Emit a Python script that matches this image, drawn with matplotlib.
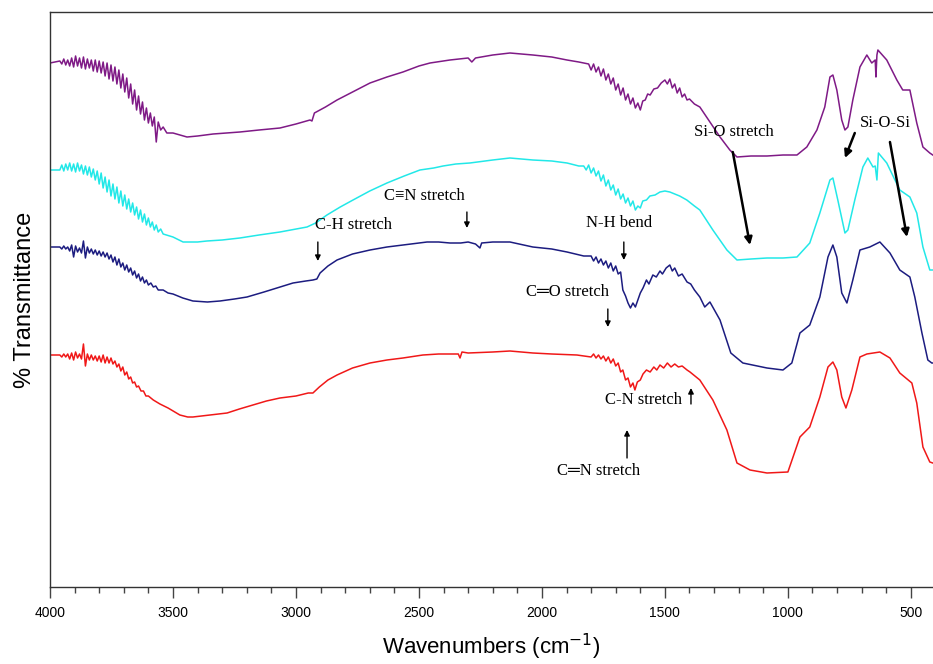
import numpy as np
import matplotlib.pyplot as plt
from matplotlib.ticker import MultipleLocator

# wavenumber (cm-1) and transmittance (arbitrary units, spectra stacked)
wn_purple = [4000, 3960, 3952, 3944, 3936, 3928, 3920, 3912, 3904, 3896, 3888, 3880, 3872, 3864,
             3856, 3848, 3840, 3832, 3824, 3816, 3808, 3800, 3792, 3784, 3776, 3768, 3760, 3752,
             3744, 3736, 3728, 3720, 3712, 3704, 3696, 3688, 3680, 3672, 3664, 3656, 3648, 3640,
             3632, 3624, 3616, 3608, 3600, 3592, 3584, 3576, 3568, 3560, 3550, 3540, 3525, 3500,
             3443, 3400, 3337, 3228, 3150, 3065, 3000, 2943, 2935, 2925, 2880, 2833, 2770, 2699,
             2630, 2565, 2500, 2455, 2400, 2374, 2300, 2285, 2270, 2200, 2130, 2037, 1960, 1898,
             1850, 1810, 1800, 1790, 1780, 1770, 1760, 1750, 1740, 1730, 1720, 1710, 1700, 1690,
             1680, 1670, 1660, 1650, 1640, 1630, 1620, 1610, 1600, 1590, 1580, 1570, 1560, 1545,
             1530, 1515, 1500, 1490, 1480, 1470, 1460, 1450, 1440, 1430, 1420, 1410, 1400, 1380,
             1358, 1317, 1276, 1236, 1207, 1150, 1085, 1020, 963, 923, 882, 850, 829, 817, 801,
             781, 768, 756, 736, 707, 679, 659, 645, 642, 638, 634, 598, 557, 533, 504, 476, 451,
             423, 411]
t_purple = [537, 539, 536, 541, 535, 540, 534, 542, 533, 544, 534, 542, 532, 543, 531, 541, 532,
            540, 529, 540, 528, 539, 527, 538, 524, 537, 521, 535, 519, 533, 516, 530, 512, 526,
            508, 522, 502, 516, 496, 510, 490, 504, 486, 498, 480, 492, 477, 487, 474, 483, 458,
            478, 470, 473, 467, 467, 463, 464, 466, 468, 470, 472, 476, 480, 479, 487, 493, 500,
            508, 517, 523, 528, 534, 537, 539, 540, 542, 538, 542, 545, 547, 545, 543, 540, 538,
            536, 530, 536, 528, 533, 524, 531, 520, 526, 516, 522, 510, 516, 505, 512, 500, 506,
            496, 502, 492, 497, 490, 499, 500, 506, 505, 511, 512, 517, 520, 516, 521, 512, 516,
            507, 512, 503, 506, 500, 501, 496, 493, 478, 463, 450, 443, 444, 444, 445, 445, 453,
            470, 493, 523, 525, 510, 480, 470, 473, 500, 533, 545, 537, 540, 523, 545, 550, 540,
            520, 510, 510, 477, 453, 447, 445]

wn_cyan = [4000, 3960, 3952, 3944, 3936, 3928, 3920, 3912, 3904, 3896, 3888, 3880, 3872, 3864,
           3856, 3848, 3840, 3832, 3824, 3816, 3808, 3800, 3792, 3784, 3776, 3768, 3760, 3752,
           3744, 3736, 3728, 3720, 3712, 3704, 3696, 3688, 3680, 3672, 3664, 3656, 3648, 3640,
           3632, 3624, 3616, 3608, 3600, 3592, 3584, 3576, 3568, 3560, 3550, 3540, 3500, 3459,
           3400, 3362, 3300, 3228, 3150, 3065, 3000, 2955, 2920, 2874, 2820, 2768, 2700, 2630,
           2560, 2496, 2440, 2402, 2350, 2293, 2200, 2130, 2037, 1960, 1898, 1850, 1830, 1820,
           1810, 1800, 1790, 1780, 1770, 1760, 1750, 1740, 1730, 1720, 1710, 1700, 1690, 1680,
           1670, 1660, 1650, 1640, 1630, 1620, 1610, 1600, 1590, 1575, 1561, 1540, 1520, 1500,
           1480, 1460, 1440, 1411, 1380, 1358, 1305, 1248, 1207, 1150, 1085, 1020, 963, 911, 870,
           829, 817, 797, 768, 756, 728, 695, 675, 654, 645, 638, 632, 598, 545, 504, 476, 451,
           423, 411]
t_cyan = [430, 430, 435, 429, 436, 430, 437, 429, 436, 428, 437, 429, 435, 426, 434, 425, 433,
          423, 431, 420, 429, 416, 427, 412, 423, 408, 420, 404, 416, 401, 413, 397, 409, 394,
          405, 391, 401, 388, 397, 385, 393, 381, 390, 378, 386, 375, 382, 373, 378, 370, 375,
          368, 371, 366, 363, 358, 358, 359, 360, 362, 365, 368, 371, 373, 377, 385, 393, 400,
          409, 417, 424, 430, 432, 434, 436, 437, 440, 442, 440, 439, 437, 434, 434, 430, 435,
          427, 432, 424, 429, 419, 425, 414, 420, 410, 415, 405, 411, 401, 406, 397, 402, 394,
          399, 390, 394, 392, 399, 400, 404, 405, 408, 409, 408, 406, 404, 400, 394, 390, 370,
          350, 340, 341, 342, 342, 343, 357, 387, 420, 422, 400, 367, 370, 400, 433, 442, 433,
          434, 420, 447, 437, 410, 403, 387, 353, 330, 330]

wn_navy = [4000, 3960, 3952, 3944, 3936, 3928, 3920, 3912, 3904, 3896, 3888, 3880, 3872, 3864,
           3856, 3848, 3840, 3832, 3824, 3816, 3808, 3800, 3792, 3784, 3776, 3768, 3760, 3752,
           3744, 3736, 3728, 3720, 3712, 3704, 3696, 3688, 3680, 3672, 3664, 3656, 3648, 3640,
           3632, 3624, 3616, 3608, 3600, 3590, 3580, 3570, 3560, 3540, 3520, 3500, 3460, 3419,
           3360, 3309, 3250, 3199, 3130, 3065, 3012, 2960, 2931, 2915, 2902, 2870, 2833, 2770,
           2699, 2630, 2565, 2500, 2467, 2420, 2374, 2330, 2300, 2270, 2252, 2245, 2200, 2130,
           2037, 1960, 1898, 1830, 1800, 1790, 1780, 1770, 1760, 1750, 1740, 1730, 1720, 1710,
           1700, 1690, 1680, 1671, 1660, 1650, 1640, 1630, 1620, 1610, 1600, 1589, 1575, 1565,
           1549, 1535, 1520, 1510, 1495, 1480, 1470, 1460, 1445, 1430, 1410, 1395, 1380, 1358,
           1338, 1317, 1276, 1232, 1183, 1085, 1020, 984, 951, 911, 870, 837, 817, 801, 781, 760,
           736, 707, 667, 626, 585, 545, 504, 484, 455, 431, 415, 411]
t_navy = [353, 353, 351, 354, 351, 353, 349, 355, 343, 354, 348, 352, 347, 359, 342, 353, 347,
          351, 346, 350, 345, 349, 344, 348, 343, 347, 341, 345, 338, 343, 335, 341, 333, 337,
          330, 335, 328, 332, 325, 329, 322, 326, 319, 323, 317, 320, 315, 317, 313, 314, 310,
          310, 307, 306, 302, 299, 298, 299, 301, 303, 308, 313, 317, 319, 320, 321, 327, 334,
          340, 346, 350, 353, 355, 357, 358, 358, 357, 357, 358, 356, 352, 357, 358, 358, 353,
          351, 348, 344, 344, 339, 343, 337, 341, 335, 339, 332, 337, 329, 334, 326, 328, 310,
          304, 297, 292, 297, 293, 300, 307, 312, 320, 316, 325, 323, 329, 326, 332, 335, 329,
          332, 324, 326, 318, 316, 310, 303, 293, 298, 280, 247, 237, 232, 230, 237, 267, 275,
          303, 343, 355, 343, 307, 297, 320, 350, 353, 358, 347, 330, 323, 303, 267, 240, 237,
          237]

wn_red = [4000, 3960, 3952, 3944, 3936, 3928, 3920, 3912, 3904, 3896, 3888, 3880, 3872, 3864,
          3856, 3848, 3840, 3832, 3824, 3816, 3808, 3800, 3792, 3784, 3776, 3768, 3760, 3752,
          3744, 3736, 3728, 3720, 3712, 3704, 3696, 3688, 3680, 3672, 3664, 3656, 3648, 3640,
          3630, 3620, 3610, 3600, 3580, 3553, 3520, 3472, 3440, 3419, 3350, 3280, 3230, 3175,
          3120, 3065, 3000, 2950, 2931, 2905, 2870, 2833, 2770, 2699, 2630, 2565, 2484, 2420,
          2362, 2340, 2333, 2325, 2300, 2200, 2130, 2037, 1960, 1858, 1800, 1790, 1780, 1770,
          1760, 1750, 1740, 1730, 1720, 1710, 1700, 1690, 1680, 1671, 1660, 1650, 1640, 1630,
          1622, 1612, 1600, 1589, 1575, 1560, 1545, 1533, 1520, 1505, 1490, 1475, 1460, 1445,
          1430, 1410, 1398, 1358, 1305, 1248, 1207, 1154, 1085, 1000, 951, 911, 870, 837, 817,
          801, 781, 764, 740, 707, 679, 626, 585, 545, 496, 476, 451, 423, 411]
t_red = [245, 245, 243, 246, 243, 246, 241, 247, 240, 248, 242, 246, 241, 256, 234, 246, 240,
         245, 240, 244, 239, 244, 238, 245, 237, 243, 237, 242, 236, 239, 233, 236, 229, 233,
         225, 228, 221, 223, 217, 218, 213, 214, 209, 209, 204, 204, 200, 196, 192, 185, 183,
         183, 185, 187, 191, 195, 199, 202, 204, 207, 207, 213, 220, 225, 232, 237, 240, 242,
         245, 246, 246, 246, 242, 248, 247, 248, 249, 247, 246, 245, 243, 246, 242, 245, 241,
         244, 239, 243, 237, 241, 234, 237, 228, 230, 220, 222, 213, 217, 210, 218, 220, 226,
         230, 228, 233, 230, 235, 232, 237, 233, 236, 233, 234, 230, 228, 220, 200, 170, 137,
         130, 127, 128, 163, 173, 203, 233, 238, 230, 203, 192, 210, 243, 246, 248, 242, 227,
         217, 197, 153, 138, 137]

notes = [
    # text, text position, arrow tail, arrow head
    ("C-H stretch", (2768, 375), (2911, 358), (2911, 339)),
    ("C\u2261N stretch", (2476, 404), (2305, 388), (2305, 372)),
    ("N-H bend", (1687, 377), (1667, 358), (1667, 340)),
    ("C\u2550O stretch", (1894, 308), (1732, 291), (1732, 273)),
    ("C-N stretch", (1589, 200), (1394, 196), (1394, 212)),
    ("C\u2550N stretch", (1768, 129), (1654, 142), (1654, 170)),
]
big_arrows = [
    ("Si-O stretch", (1220, 468), [((1224, 448), (1154, 355))]),
    ("Si-O-Si", (602, 477), [((728, 467), (768, 442)), ((585, 458), (516, 363))]),
]

fig = plt.figure(figsize=(9.33, 6.64), dpi=100)
ax = fig.add_axes([50 / 933, 77 / 664, 883 / 933, 575 / 664])

ax.plot(wn_purple, t_purple, color="#7f1a86", lw=1.1)
ax.plot(wn_cyan, t_cyan, color="#22e8e8", lw=1.1)
ax.plot(wn_navy, t_navy, color="#1c1c80", lw=1.1)
ax.plot(wn_red, t_red, color="#f01818", lw=1.1)

ax.set_xlim(4000, 410)
ax.set_ylim(13, 588)

serif = ["Liberation Serif", "DejaVu Serif", "DejaVu Sans"]
for txt, pos, tail, head in notes:
    ax.text(pos[0], pos[1], txt, ha="center", va="center", fontsize=12, family=serif)
    ax.annotate("", xy=head, xytext=tail,
                arrowprops=dict(arrowstyle="-|>", color="black", lw=1.0,
                                mutation_scale=8, shrinkA=0, shrinkB=0))
for txt, pos, arrows in big_arrows:
    ax.text(pos[0], pos[1], txt, ha="center", va="center", fontsize=12, family=serif)
    for tail, head in arrows:
        ax.annotate("", xy=head, xytext=tail,
                    arrowprops=dict(arrowstyle="-|>", color="black", lw=1.8,
                                    mutation_scale=11, shrinkA=0, shrinkB=0))

sans = ["Liberation Sans Narrow", "Liberation Sans", "DejaVu Sans"]
ax.xaxis.set_major_locator(MultipleLocator(500))
ax.xaxis.set_minor_locator(MultipleLocator(100))
ax.tick_params(axis="x", which="major", length=8, width=1, color="#444444", pad=6)
ax.tick_params(axis="x", which="minor", length=4, width=1, color="#444444")
ax.set_yticks([])
for lab in ax.get_xticklabels():
    lab.set_family(sans)
    lab.set_fontsize(10)

ax.spines["right"].set_visible(False)
for s in ("left", "bottom", "top"):
    ax.spines[s].set_color("#333333")
    ax.spines[s].set_linewidth(1.0)

ax.set_xlabel("Wavenumbers (cm$^{-1}$)", family=sans, fontsize=16, labelpad=8)
ax.set_ylabel("% Transmittance", family=sans, fontsize=17, labelpad=10)

fig.savefig("out.png", dpi=100)
